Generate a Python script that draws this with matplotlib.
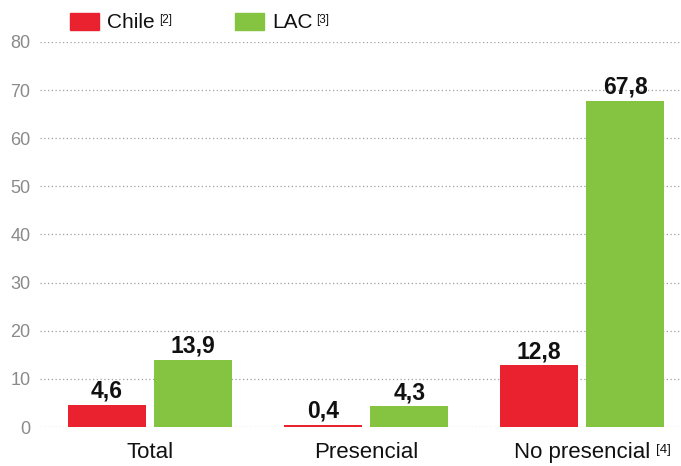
import numpy as np
import matplotlib
matplotlib.use("Agg")
import matplotlib.pyplot as plt
from matplotlib.patches import Rectangle

plt.rcParams['font.family'] = ['Liberation Sans', 'DejaVu Sans']

# Data
categories = ['Total', 'Presencial', 'No presencial']
cat_notes = ['', '', '[4]']
chile = [4.6, 0.4, 12.8]
lac = [13.9, 4.3, 67.8]
series_labels = ['Chile', 'LAC']
series_notes = ['[2]', '[3]']

red = '#ea222f'
green = '#84c441'
W, H = 681, 466

fig = plt.figure(figsize=(W / 100, H / 100), dpi=100)
ax = fig.add_axes([40 / W, 1 - 427 / H, 1 - 40 / W, (427 - 42) / H])

x = np.arange(len(categories))
w = 0.36
b1 = ax.bar(x - 0.2, chile, w, color=red, zorder=3)
b2 = ax.bar(x + 0.2, lac, w, color=green, zorder=3)

def fmt(v):
    return f"{v:.1f}".replace('.', ',')

for bars, vals in ((b1, chile), (b2, lac)):
    for rect, v in zip(bars, vals):
        ax.text(rect.get_x() + rect.get_width() / 2, v + 1.5, fmt(v),
                ha='center', va='baseline', fontsize=16.5, fontweight='bold', color='#111111')

ax.set_xlim(-0.509, 2.458)
ax.set_ylim(0, 80)
ax.set_yticks(range(0, 81, 10))
ax.yaxis.grid(True, linestyle=(0, (1, 2)), color='#a0a0a0', linewidth=0.9, zorder=0)
ax.set_axisbelow(True)
for s in ax.spines.values():
    s.set_visible(False)
ax.tick_params(axis='y', length=0, pad=7, labelsize=13, labelcolor='#8a8a8a')
ax.tick_params(axis='x', length=0, pad=11, labelsize=16, labelcolor='#111111')
ax.set_xticks(x)
ax.set_xticklabels(categories)

fig.canvas.draw()
renderer = fig.canvas.get_renderer()

# superscript notes after category labels
for lab, note in zip(ax.get_xticklabels(), cat_notes):
    if note:
        bb = lab.get_window_extent(renderer)
        fig.text((bb.x1 + 6) / W, 1 - 453 / H, note, ha='left', va='baseline',
                 fontsize=9.5, color='#111111')

# legend drawn by hand
leg_x = [70, 235]
for lx, col, name, note in zip(leg_x, [red, green], series_labels, series_notes):
    fig.add_artist(Rectangle((lx / W, 1 - 30 / H), 29 / W, 17 / H,
                             transform=fig.transFigure, color=col))
    t = fig.text((lx + 37) / W, 1 - 28 / H, name, ha='left', va='baseline',
                 fontsize=15, color='#111111')
    bb = t.get_window_extent(renderer)
    fig.text((bb.x1 + 4) / W, 1 - 23 / H, note, ha='left', va='baseline',
             fontsize=8.5, color='#111111')

fig.savefig('out.png', dpi=100)
